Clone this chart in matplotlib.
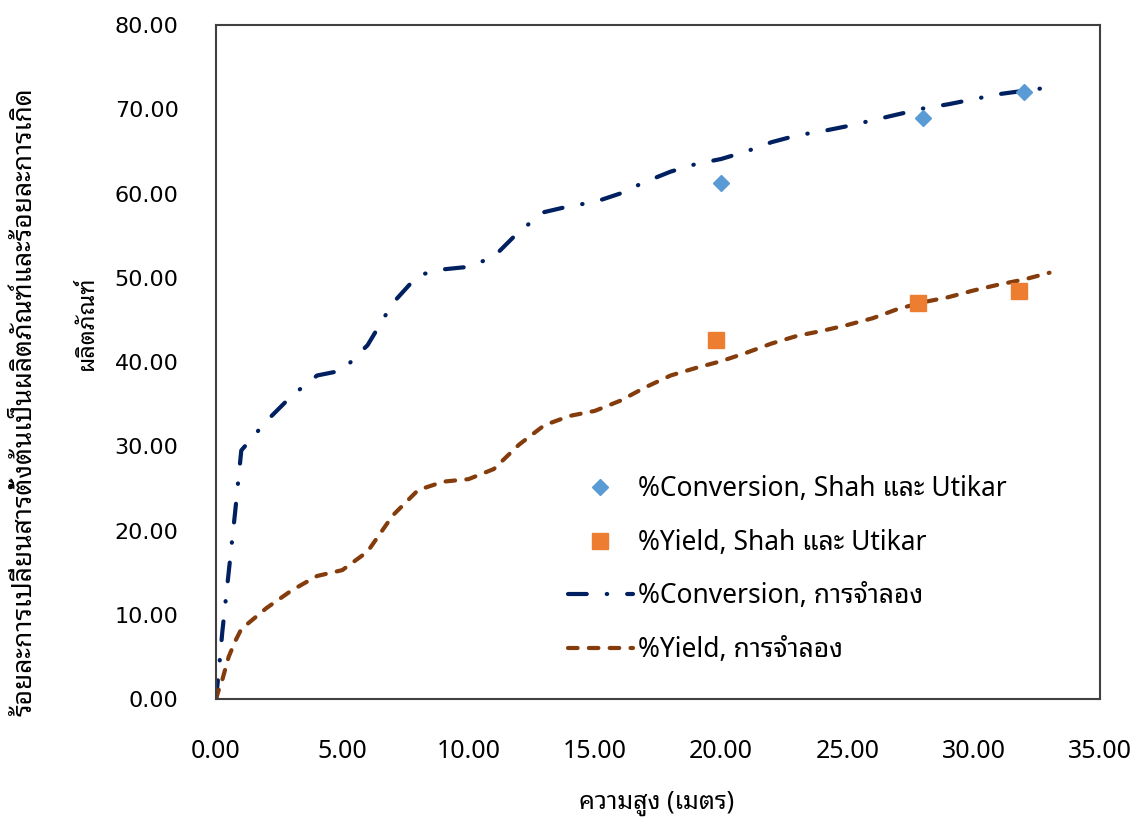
import matplotlib
matplotlib.use("Agg")
import matplotlib.pyplot as plt

# simulation (smoothed curve points)
sim_height = [0, 0.1, 0.25, 0.5, 0.75, 1, 2, 3, 4, 5, 6, 7, 8, 9, 10, 11, 12, 13, 14, 15, 16,
              17, 18, 19, 20, 21, 22, 23, 24, 25, 26, 27, 28, 29, 30, 31, 32, 33]
sim_conversion = [0, 3.0, 8.0, 15.0, 22.0, 29.5, 33.0, 36.0, 38.4, 39.0, 42.0, 47.0, 50.3, 51.0,
                  51.3, 52.5, 55.5, 57.8, 58.5, 59.0, 60.0, 61.4, 62.6, 63.5, 64.1, 65.0, 66.1,
                  66.9, 67.4, 68.0, 68.7, 69.4, 70.1, 70.6, 71.2, 71.8, 72.2, 72.6]
sim_yield = [0, 1.0, 2.3, 5.0, 6.8, 8.3, 10.8, 12.9, 14.6, 15.3, 17.5, 21.8, 24.8, 25.8, 26.1,
             27.3, 30.2, 32.5, 33.6, 34.2, 35.4, 37.0, 38.4, 39.3, 40.1, 41.1, 42.2, 43.1, 43.7,
             44.4, 45.2, 46.3, 47.1, 47.7, 48.5, 49.2, 49.8, 50.6]

# Shah and Utikar experimental data
exp_conv_height = [20, 28, 32]
exp_conversion = [61.2, 69.0, 72.1]
exp_yield_height = [19.8, 27.8, 31.8]
exp_yield = [42.6, 47.0, 48.4]

x_ticks = [0, 5, 10, 15, 20, 25, 30, 35]
y_ticks = [0, 10, 20, 30, 40, 50, 60, 70, 80]

THAI = ["Noto Sans Thai Looped", "Noto Sans", "DejaVu Sans"]
plt.rcParams["font.family"] = THAI

fig = plt.figure(figsize=(11.43, 8.21), dpi=100)
ax = fig.add_axes([0.189, 0.1486, 0.7734, 0.8209])

ax.plot(sim_height, sim_conversion, color="#002060", lw=3.0, dashes=(4.5, 4.8, 0.1, 4.8),
        dash_capstyle="round", label="%Conversion, การจำลอง", zorder=2)
ax.plot(sim_height, sim_yield, color="#843C0C", lw=3.0, dashes=(2.3, 2.7),
        dash_capstyle="round", label="%Yield, การจำลอง", zorder=2)
ax.plot(exp_conv_height, exp_conversion, ls="none", marker="D", ms=8, color="#5B9BD5",
        label="%Conversion, Shah และ Utikar", zorder=3)
ax.plot(exp_yield_height, exp_yield, ls="none", marker="s", ms=11, color="#ED7D31",
        label="%Yield, Shah และ Utikar", zorder=3)

ax.set_xlim(0, 35)
ax.set_ylim(0, 80)
ax.set_xticks(x_ticks)
ax.set_yticks(y_ticks)
ax.set_xticklabels([f"{v:.2f}" for v in x_ticks], family="Noto Sans", fontsize=18)
ax.set_yticklabels([f"{v:.2f}" for v in y_ticks], family="DejaVu Sans", fontsize=16)
ax.tick_params(axis="x", length=0, pad=29)
ax.tick_params(axis="y", length=0, pad=27)
for s in ax.spines.values():
    s.set_color("#404040")
    s.set_linewidth(1.5)

h, l = ax.get_legend_handles_labels()
order = [2, 3, 0, 1]
ax.legend([h[i] for i in order], [l[i] for i in order], loc="upper left",
          bbox_to_anchor=(0.398, 0.332), frameon=False, fontsize=19, handlelength=2.46,
          handletextpad=0.2, labelspacing=0.97, borderpad=0, borderaxespad=0)

# axis titles
fig.text(657 / 1143, 1 - 803 / 821, "ความสูง (เมตร)", ha="center", va="center", fontsize=18)
fig.text(25 / 1143, 1 - 402 / 821, "ร้อยละการเปลี่ยนสารตั้งต้นเป็นผลิตภัณฑ์และร้อยละการเกิด",
         rotation=90, ha="center", va="center", fontsize=19)
fig.text(87 / 1143, 1 - 323 / 821, "ผลิตภัณฑ์", rotation=90, ha="center", va="center",
         fontsize=17)

fig.savefig("out.png", dpi=100)
